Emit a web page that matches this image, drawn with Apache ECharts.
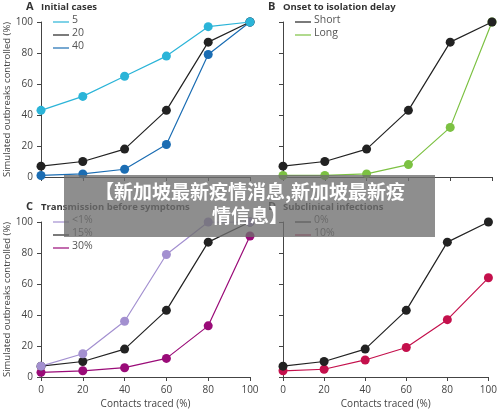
<!DOCTYPE html><html><head><meta charset="utf-8"><script src="https://cdn.jsdelivr.net/npm/echarts@6/dist/echarts.min.js"></script>
<style>html,body{margin:0;background:#fff}#c{width:500px;height:411px}</style></head><body><div id="c"></div><script>
const xTicks=[0,20,40,60,80,100];
const aNames=['5','20','40'];
const a5=[43,52,65,78,97,100],a20=[7,10,18,43,87,100],a40=[1,2,5,21,79,100];
const bNames=['Short','Long'];
const bShort=[7,10,18,43,87,100],bLong=[1,1,2,8,32,100];
const cNames=['<1%','15%','30%'];
const cLow=[7,15,36,79,100,100],c15=[7,10,18,43,87,100],c30=[3,4,6,12,33,91];
const dNames=['0%','10%'];
const d0=[7,10,18,43,87,100],d10=[4,5,11,19,37,64];
const titles=[['A','Initial cases'],['B','Onset to isolation delay'],['C','Transmission before symptoms'],['D','Subclinical infections']];
const banner=['【新加坡最新疫情消息,新加坡最新疫','情信息】'];

const F='"Open Sans", "Liberation Sans", sans-serif';
const grids=[{left:41,top:22,width:209,height:155},{left:283,top:22,width:209,height:155},{left:41,top:222,width:209,height:155},{left:283,top:222,width:209,height:155}];
const panels=[
 {names:aNames,data:[a5,a20,a40],colors:['#2bb4d8','#222','#1b6db3']},
 {names:bNames,data:[bShort,bLong],colors:['#222','#7cc142']},
 {names:cNames,data:[cLow,c15,c30],colors:['#a390d0','#222','#9a0b78']},
 {names:dNames,data:[d0,d10],colors:['#222','#c4104c']}];
const xAxis=[],yAxis=[],series=[],graphic=[];
grids.forEach((g,i)=>{
 const bottom=i>=2;
 xAxis.push({type:'value',gridIndex:i,min:0,max:100,interval:20,splitLine:{show:false},
  axisLine:{lineStyle:{color:'#444'}},axisTick:{show:true,length:4,lineStyle:{color:'#444'}},
  axisLabel:{show:bottom,color:'#444',fontSize:10,fontFamily:F},
  name:bottom?'Contacts traced (%)':'',nameLocation:'middle',nameGap:22,nameTextStyle:{color:'#444',fontSize:10,fontFamily:F}});
 const left=i%2===0;
 yAxis.push({type:'value',gridIndex:i,min:0,max:100,interval:20,splitLine:{show:false},
  axisLine:{show:true,lineStyle:{color:'#444'}},axisTick:{show:true,length:4,lineStyle:{color:'#444'}},
  axisLabel:{show:left,color:'#444',fontSize:10,fontFamily:F},
  name:left?'Simulated outbreaks controlled (%)':'',nameLocation:'middle',nameGap:28,nameTextStyle:{color:'#444',fontSize:9.5,fontFamily:F}});
 const p=panels[i];
 p.data.forEach((d,k)=>{
  series.push({type:'line',xAxisIndex:i,yAxisIndex:i,data:d.map((v,j)=>[xTicks[j],v]),symbol:'circle',symbolSize:9,
   lineStyle:{color:p.colors[k],width:1.2},itemStyle:{color:p.colors[k]},z:10-k});
  graphic.push({type:'line',shape:{x1:g.left+12,y1:g.top+k*13,x2:g.left+28,y2:g.top+k*13},style:{stroke:p.colors[k],lineWidth:1.2}});
  graphic.push({type:'text',left:g.left+31,top:g.top+k*13-7,style:{text:p.names[k],fill:'#555',font:'10.5px '+F}});
 });
 graphic.push({type:'text',left:g.left-15,top:g.top-21,style:{text:titles[i][0],fill:'#333',font:'bold 11px '+F}});
 graphic.push({type:'text',left:g.left,top:g.top-20,style:{text:titles[i][1],fill:'#333',font:'bold 9.5px '+F}});
});
graphic.push({type:'rect',shape:{x:64,y:175,width:371,height:62},style:{fill:'rgba(110,110,110,0.78)'},z:100});
graphic.push({type:'text',x:250,y:182,style:{text:banner[0],fill:'#fff',font:'bold 19px "Noto Sans CJK SC"',align:'center'},z:101});
graphic.push({type:'text',x:250,y:206,style:{text:banner[1],fill:'#fff',font:'bold 19px "Noto Sans CJK SC"',align:'center'},z:101});
const ch=echarts.init(document.getElementById('c'));
ch.setOption({animation:false,grid:grids,xAxis,yAxis,series,graphic});
</script></body></html>
